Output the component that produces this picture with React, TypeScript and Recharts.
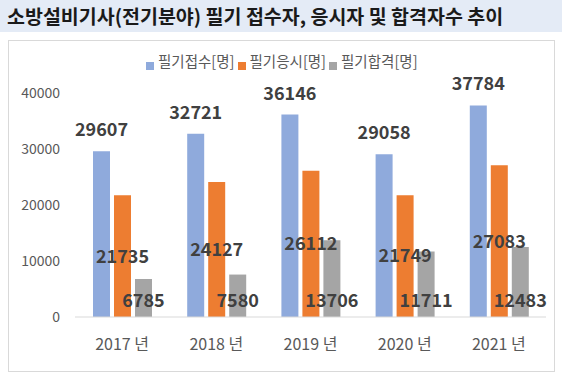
import React from "react";
import { BarChart, Bar, XAxis, YAxis, LabelList, Legend } from "recharts";

const years = ["2017 년", "2018 년", "2019 년", "2020 년", "2021 년"];
const applied = [29607, 32721, 36146, 29058, 37784];
const tookExam = [21735, 24127, 26112, 21749, 27083];
const passed = [6785, 7580, 13706, 11711, 12483];
const yTicks = [0, 10000, 20000, 30000, 40000];
const seriesNames = ["필기접수[명]", "필기응시[명]", "필기합격[명]"];
const colors = ["#8faadc", "#ed7d31", "#a5a5a5"];

const data = years.map((y, i) => ({
  year: y,
  a: applied[i],
  b: tookExam[i],
  c: passed[i],
}));

const FONT = "'Noto Sans CJK KR', 'Noto Sans', sans-serif";
const labelStyle = { fontSize: 18, fontWeight: 700, fill: "#404040", fontFamily: FONT };

const renderLegend = () => (
  <div style={{ display: "flex", alignItems: "center", fontFamily: FONT, fontSize: 14.5, color: "#595959", lineHeight: "20px" }}>
    {seriesNames.map((n, i) => (
      <div key={n} style={{ display: "flex", alignItems: "center", marginRight: 3 }}>
        <span style={{ display: "inline-block", width: 8, height: 8, background: colors[i], marginRight: 4, position: "relative", top: 5 }} />
        <span>{n}</span>
      </div>
    ))}
  </div>
);

export default function App() {
  return (
    <div style={{ position: "absolute", left: 0, top: 0, width: 562, height: 380, background: "#fff", fontFamily: FONT }}>
      <div style={{ position: "absolute", left: 0, top: 0, width: 562, height: 32, background: "#e4ebf6" }} />
      <div style={{ position: "absolute", left: 7, top: 2, fontSize: 19.5, fontWeight: 700, color: "#1a1a1a", lineHeight: "28px", whiteSpace: "nowrap" }}>
        소방설비기사(전기분야) 필기 접수자, 응시자 및 합격자수 추이
      </div>
      <div style={{ position: "absolute", left: 8, top: 40, width: 545, height: 330, border: "1px solid #d9d9d9" }} />
      <div style={{ position: "absolute", left: 0, top: 0 }}>
        <BarChart
          width={562}
          height={380}
          data={data}
          margin={{ top: 73, right: 16, left: 15, bottom: 33 }}
          barSize={17}
          barGap={4}
        >
          <XAxis
            dataKey="year"
            axisLine={{ stroke: "#d9d9d9" }}
            tickLine={false}
            tickMargin={16}
            height={30}
            tick={{ fontSize: 16, fill: "#595959", fontFamily: FONT }}
          />
          <YAxis
            domain={[0, 40000]}
            ticks={yTicks}
            axisLine={false}
            tickLine={false}
            width={60}
            tickMargin={9}
            tick={{ fontSize: 14, fill: "#595959", fontFamily: FONT }}
          />
          <Legend
            verticalAlign="top"
            content={renderLegend}
            wrapperStyle={{ position: "absolute", top: 51, left: 146, width: "auto" }}
          />
          <Bar dataKey="a" name={seriesNames[0]} fill={colors[0]} isAnimationActive={false}>
            <LabelList dataKey="a" position="top" offset={15} style={labelStyle} />
          </Bar>
          <Bar dataKey="b" name={seriesNames[1]} fill={colors[1]} isAnimationActive={false}>
            <LabelList dataKey="b" position="center" style={labelStyle} />
          </Bar>
          <Bar dataKey="c" name={seriesNames[2]} fill={colors[2]} isAnimationActive={false}>
            <LabelList dataKey="c" position="insideBottom" offset={10} style={labelStyle} />
          </Bar>
        </BarChart>
      </div>
    </div>
  );
}
